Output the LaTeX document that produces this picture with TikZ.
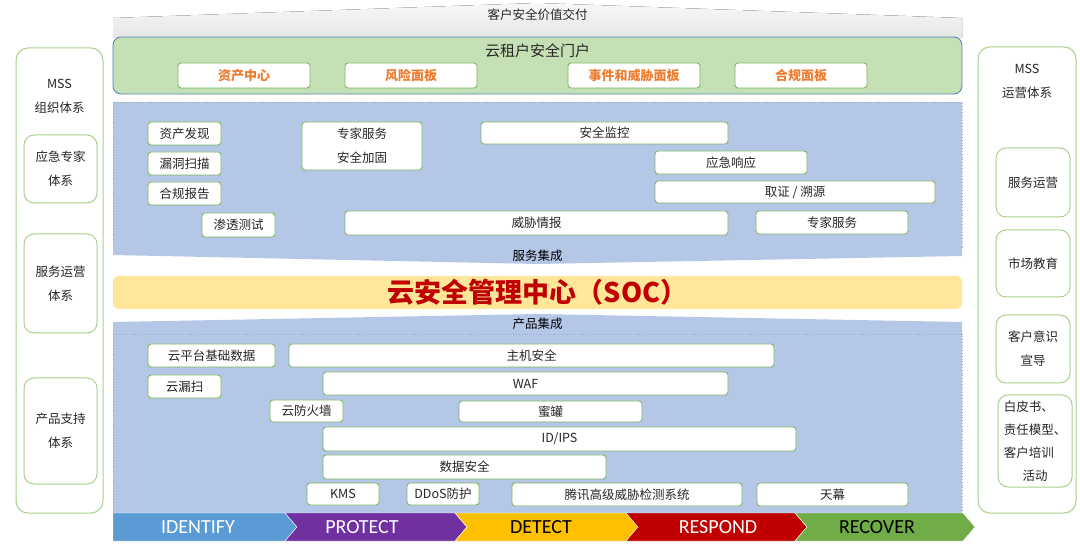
\documentclass[tikz,border=0pt]{standalone}
\usepackage{fontspec}
\setmainfont{Noto Sans CJK SC}
\newfontfamily\phasefont{Carlito}
\usepackage{xcolor}
\definecolor{boxgreen}{HTML}{82B565}
\definecolor{colgreen}{HTML}{A9D18E}
\definecolor{portalgreen}{HTML}{C5E0B4}
\definecolor{portalblue}{HTML}{5080B8}
\definecolor{panelblue}{HTML}{B4C7E7}
\definecolor{paneldots}{HTML}{8FA8CC}
\definecolor{socyellow}{HTML}{FFE699}
\definecolor{socred}{HTML}{C00000}
\definecolor{tileorange}{HTML}{ED7D31}
\definecolor{idblue}{HTML}{5B9BD5}
\definecolor{prpurple}{HTML}{7030A0}
\definecolor{detgold}{HTML}{FFC000}
\definecolor{resred}{HTML}{C00000}
\definecolor{recgreen}{HTML}{70AD47}

\begin{document}
\begin{tikzpicture}[x=1pt, y=-1pt,
  every node/.style={font=\fontsize{12.5}{24}\selectfont, text=black!85, align=center},
  svc/.style={draw=boxgreen, fill=white, rounded corners=3pt, line width=0.9pt, inner sep=0pt},
  tile/.style={svc, minimum width=132, minimum height=25, text=tileorange, font=\fontsize{13}{15}\selectfont\bfseries},
  col/.style={draw=colgreen, fill=white, rounded corners=12pt, line width=1pt, inner sep=0pt},
  sub/.style={draw=colgreen, fill=white, rounded corners=10pt, line width=1pt, inner sep=0pt},
  phase/.style={font=\phasefont\fontsize{20}{22}\selectfont}]
\useasboundingbox[fill=white] (0,0) rectangle (1080,553);

% Delivery banner
\fill[top color=gray!6, bottom color=gray!20] (113,38) -- (113,18) -- (537.5,3) -- (962,18) -- (962,38) -- cycle;
\node (delivery) at (537.5,15) {客户安全价值交付};

% Portal
\node[draw=portalblue, fill=portalgreen, rounded corners=8pt, line width=0.8pt, minimum width=849, minimum height=57] (portal) at (537.5,65.5) {};
\node[font=\fontsize{15}{18}\selectfont] (portaltitle) at (537.5,51) {云租户安全门户};
\node[tile] (assets) at (244,75.5) {资产中心};
\node[tile] (risk) at (411,75.5) {风险面板};
\node[tile] (threat) at (634,75.5) {事件和威胁面板};
\node[tile] (compliance) at (801,75.5) {合规面板};

% Services
\fill[panelblue] (113,102) rectangle (962,247);
\draw[paneldots, dotted, line width=0.8pt] (113,102) rectangle (962,247);
\fill[panelblue] (113,247) -- (962,247) -- (962,256) -- (537.5,264) -- (113,255) -- cycle;
\node[text=black] (svcint) at (537.5,256) {服务集成};
\node[svc, minimum width=73, minimum height=23] (assetfind) at (184.5,133.5) {资产发现};
\node[svc, minimum width=73, minimum height=23] (vulnscan) at (184.5,163.5) {漏洞扫描};
\node[svc, minimum width=73, minimum height=23] (compreport) at (184.5,193.5) {合规报告};
\node[svc, minimum width=73, minimum height=24] (pentest) at (238.5,225) {渗透测试};
\node[svc, minimum width=120, minimum height=48] (harden) at (362,146) {专家服务\\安全加固};
\node[svc, minimum width=247, minimum height=22] (secmon) at (604.5,133) {安全监控};
\node[svc, minimum width=152, minimum height=23] (incresp) at (731,162.5) {应急响应};
\node[svc, minimum width=280, minimum height=22] (forensic) at (795,192) {取证 / 溯源};
\node[svc, minimum width=383, minimum height=24] (intel) at (536.5,223) {威胁情报};
\node[svc, minimum width=152, minimum height=23] (expert) at (832,222.5) {专家服务};

% SOC
\node[fill=socyellow, rounded corners=6pt, minimum width=849, minimum height=33, inner sep=0pt, text=socred, font=\fontsize{27}{30}\selectfont\bfseries] (soc) at (537.5,292.5) {云安全管理中心（SOC）};

% Products
\fill[panelblue] (113,334) -- (113,322) -- (537.5,314) -- (962,322) -- (962,334) -- cycle;
\node[text=black] (prodint) at (537.5,324) {产品集成};
\fill[panelblue] (113,334) rectangle (962,513);
\draw[paneldots, dotted, line width=0.8pt] (113,334) rectangle (962,513);
\node[svc, minimum width=127, minimum height=23] (cloudbase) at (211.5,355.5) {云平台基础数据};
\node[svc, minimum width=485, minimum height=23] (hostsec) at (531.5,355.5) {主机安全};
\node[svc, minimum width=73, minimum height=23] (cloudscan) at (184.5,386.5) {云漏扫};
\node[svc, minimum width=405, minimum height=23] (waf) at (525.5,383.5) {WAF};
\node[svc, minimum width=73, minimum height=22] (cloudfw) at (306.5,411) {云防火墙};
\node[svc, minimum width=183, minimum height=21] (honeypot) at (550.5,411.5) {蜜罐};
\node[svc, minimum width=473, minimum height=24] (idips) at (559.5,439) {ID/IPS};
\node[svc, minimum width=283, minimum height=24] (datasec) at (464.5,467) {数据安全};
\node[svc, minimum width=72, minimum height=22] (kms) at (343,494) {KMS};
\node[svc, minimum width=72, minimum height=22] (ddos) at (443,494) {DDoS防护};
\node[svc, minimum width=230, minimum height=23] (tencent) at (627,494.5) {腾讯高级威胁检测系统};
\node[svc, minimum width=151, minimum height=23] (tianmu) at (832.5,494.5) {天幕};

% Phases
\fill[idblue, draw=white] (113,513) -- (285,513) -- (297,527) -- (285,541) -- (113,541) -- cycle;
\fill[prpurple, draw=white] (285,513) -- (455,513) -- (467,527) -- (455,541) -- (285,541) -- (297,527) -- cycle;
\fill[detgold, draw=white] (455,513) -- (626,513) -- (638,527) -- (626,541) -- (455,541) -- (467,527) -- cycle;
\fill[resred, draw=white] (626,513) -- (795,513) -- (807,527) -- (795,541) -- (626,541) -- (638,527) -- cycle;
\fill[recgreen, draw=white] (795,513) -- (963,513) -- (975,527) -- (963,541) -- (795,541) -- (807,527) -- cycle;
\node[phase, text=white] (identify) at (198,527) {IDENTIFY};
\node[phase, text=white] (protect) at (362,527) {PROTECT};
\node[phase, text=black] (detect) at (541,527) {DETECT};
\node[phase, text=white] (respond) at (718,527) {RESPOND};
\node[phase, text=black] (recover) at (877,527) {RECOVER};

% MSS organisation
\node[col, minimum width=87, minimum height=465] (orgcol) at (59.5,280.5) {};
\node (orgtitle) at (59.5,96.5) {MSS\\组织体系};
\node[sub, minimum width=73, minimum height=68] (emergency) at (60.5,169) {应急专家\\体系};
\node[sub, minimum width=73, minimum height=99] (opsys) at (60.5,283.5) {服务运营\\体系};
\node[sub, minimum width=73, minimum height=106] (prodsup) at (60.5,431) {产品支持\\体系};

% MSS operations
\node[col, minimum width=98, minimum height=466] (opscol) at (1027,280) {};
\node (opstitle) at (1027,81) {MSS\\运营体系};
\node[sub, minimum width=74, minimum height=69] (svcops) at (1033,182.5) {服务运营};
\node[sub, minimum width=74, minimum height=67] (market) at (1033,263.5) {市场教育};
\node[sub, minimum width=74, minimum height=68] (awareness) at (1033,349) {客户意识\\宣导};
\node[sub, minimum width=74, minimum height=92, font=\fontsize{12.5}{23}\selectfont] (training) at (1035,441) {白皮书、\hphantom{、}\\责任模型、\\客户培训\hphantom{、}\\活动};
\end{tikzpicture}
\end{document}
